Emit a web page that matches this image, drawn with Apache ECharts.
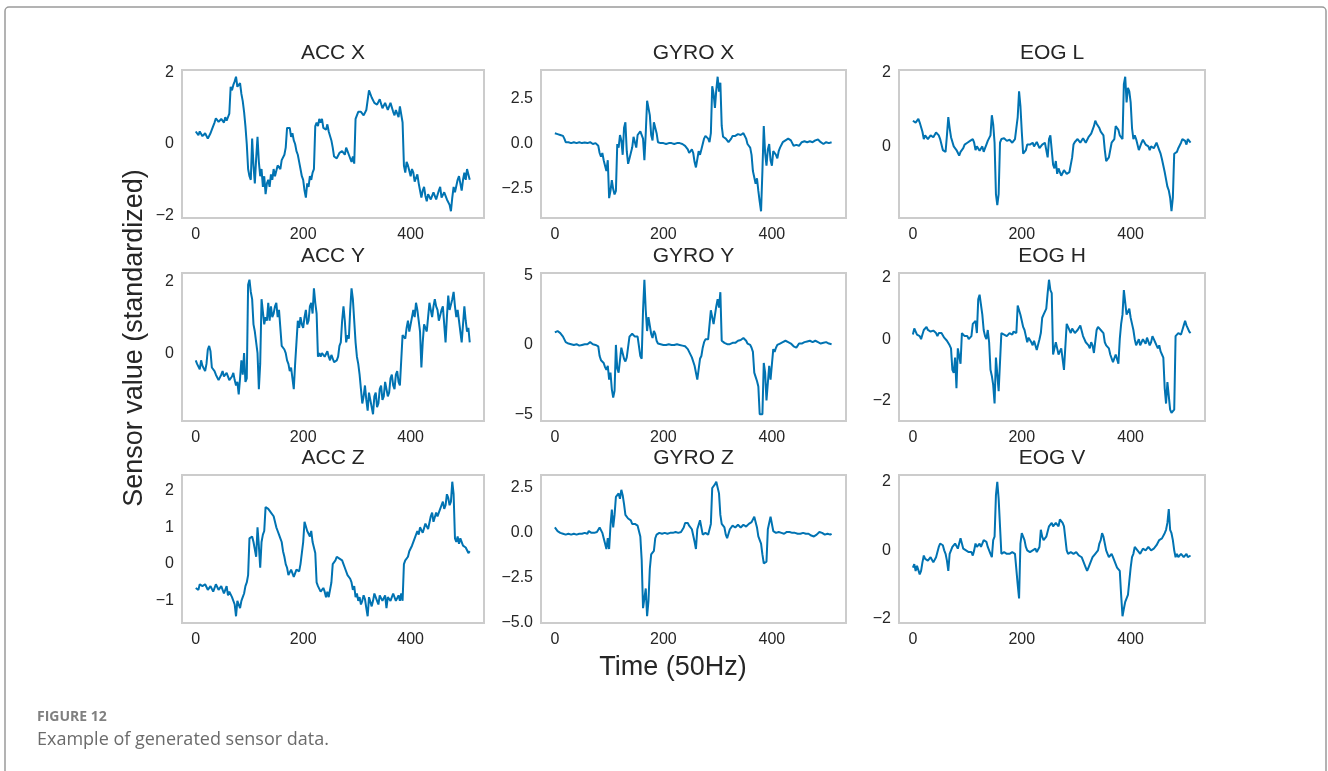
<!DOCTYPE html>
<html>
<head>
<meta charset="utf-8">
<script src="https://cdn.jsdelivr.net/npm/echarts@6/dist/echarts.min.js"></script>
<style>
  html, body { margin: 0; padding: 0; background: #fff; }
  #chart { width: 1328px; height: 771px; }
</style>
</head>
<body>
<div id="chart"></div>
<script>
// recording has 512 samples, values below are read every xStep samples
const nSamples = 512;
const xStep = 2.5;
const xTicks = [0, 200, 400];

// sensor values (one row = 50 samples)
const accX = [
  0.35,0.3,0.25,0.35,0.3,0.22,0.2,0.3,0.28,0.15,0.1,0.3,0.4,0.5,0.6,0.72,0.7,0.62,0.6,0.7,
  0.65,0.6,0.75,0.65,0.7,0.85,1.6,1.5,1.65,1.75,1.88,1.6,1.55,1.7,1.4,1.2,0.9,0.5,0.0,-0.7,
  -0.9,-1.0,0.15,-0.6,-1.1,-0.4,0.2,-0.5,-0.9,-0.7,-1.2,-0.9,-1.4,-1.1,-1.0,-1.2,-0.85,-1.0,-0.7,-0.9,
  -0.75,-0.6,-0.55,-0.7,-0.45,-0.5,-0.3,-0.1,0.45,0.4,0.45,0.2,0.3,0.1,0.0,-0.2,-0.3,-0.5,-0.7,-0.9,
  -1.0,-1.3,-1.5,-1.1,-1.2,-0.9,-1.0,-0.8,-0.7,0.5,0.6,0.5,0.7,0.6,0.7,0.45,0.5,0.4,0.55,0.35,
  0.3,0.1,-0.1,-0.35,-0.3,-0.4,-0.35,-0.25,-0.3,-0.2,-0.2,-0.3,-0.1,-0.2,-0.3,-0.4,-0.5,-0.35,-0.55,0.7,
  0.8,0.9,0.85,0.9,0.95,0.8,0.85,0.95,0.9,1.5,1.45,1.3,1.25,1.15,1.2,1.1,1.1,1.25,1.2,1.0,
  1.05,1.15,1.2,0.95,1.0,1.15,1.1,0.9,0.8,0.95,0.95,0.75,1.05,1.0,0.6,-0.6,-0.8,-0.5,-0.6,-0.75,
  -0.9,-0.7,-0.8,-1.05,-1.0,-0.85,-1.1,-1.3,-1.5,-1.3,-1.2,-1.45,-1.6,-1.4,-1.35,-1.55,-1.5,-1.35,-1.3,-1.55,
  -1.5,-1.3,-1.2,-1.5,-1.5,-1.35,-1.4,-1.55,-1.6,-1.7,-1.88,-1.5,-1.2,-1.35,-1.3,-1.0,-0.9,-1.1,-1.3,-1.0,
  -0.8,-1.0,-0.7,-0.85,-1.0
];
const gyroX = [
  0.6,0.7,0.55,0.62,0.5,0.58,0.45,0.3,0.1,0.15,0.1,0.08,0.05,0.12,0.1,0.05,0.05,0.1,0.1,0.04,
  0.05,0.1,0.08,0.02,0.05,0.12,0.1,0.03,0.0,0.05,0.05,0.0,-0.1,-0.5,-0.7,-0.5,-0.9,-1.2,-1.5,-0.9,
  -3.0,-2.6,-2.0,-2.5,-2.8,-2.6,0.0,-0.2,0.5,0.2,-0.6,0.9,1.2,-0.4,-1.1,-0.8,-0.9,-0.2,0.4,0.1,
  -0.2,0.5,0.6,0.7,0.6,0.3,-0.9,0.6,2.4,2.0,1.6,0.5,0.2,1.2,1.1,0.6,0.1,0.08,0.05,0.1,
  0.05,0.08,0.0,0.06,0.05,0.0,0.05,0.08,0.0,0.06,0.05,0.0,0.05,0.08,0.0,-0.05,-0.1,-0.2,-0.3,-0.5,
  -0.4,-0.3,-0.5,-1.0,-1.3,-1.35,-0.4,-0.6,-0.3,0.0,0.3,0.45,0.5,0.3,0.1,0.6,3.2,2.8,2.0,3.0,
  3.73,2.9,3.4,1.0,0.4,0.3,0.3,0.2,0.1,0.05,0.3,0.45,0.55,0.45,0.5,0.55,0.6,0.5,0.55,0.6,
  0.6,0.3,0.0,-0.1,-0.2,-0.6,-1.5,-1.6,-2.2,-1.9,-2.6,-3.2,-3.73,-1.5,1.0,-0.5,-1.2,-0.3,0.0,-0.9,
  -1.2,-0.4,-0.3,-0.6,-0.8,-0.4,-0.2,-0.1,0.1,0.15,0.2,0.25,0.3,0.25,0.2,0.05,-0.1,-0.08,-0.05,-0.12,
  -0.1,0.0,0.1,0.12,0.15,0.08,0.1,0.18,0.15,0.08,0.1,0.15,0.2,0.22,0.25,0.15,0.1,0.05,0.0,0.08,
  0.1,0.02,0.05,0.12,0.1
];
const eogL = [
  0.7,0.75,0.65,0.7,0.75,0.65,0.6,0.4,0.2,0.3,0.35,0.2,0.2,0.3,0.35,0.25,0.3,0.38,0.35,0.3,
  0.2,0.05,-0.1,-0.05,-0.15,0.3,0.8,0.5,0.25,0.3,0.0,0.05,-0.1,-0.05,-0.25,-0.15,-0.1,-0.05,0.05,0.0,
  0.1,0.05,0.15,0.12,0.2,0.1,-0.1,0.0,-0.05,-0.12,-0.1,0.0,-0.15,-0.05,0.05,0.15,0.2,0.3,0.85,0.6,
  0.1,-1.3,-1.6,-1.3,0.1,0.2,0.25,0.22,0.2,0.15,0.1,0.18,0.15,0.1,0.1,0.2,0.15,0.8,1.5,1.1,
  0.4,-0.2,-0.2,-0.1,0.05,0.0,0.05,0.1,0.1,0.0,0.05,0.12,0.1,-0.05,-0.05,0.05,0.0,0.1,0.05,-0.3,
  0.2,0.3,0.25,-0.5,-0.6,-0.4,-0.75,-0.6,-0.7,-0.8,-0.85,-0.65,-0.6,-0.75,-0.75,-0.7,-0.7,-0.3,0.05,0.12,
  0.1,0.2,0.2,0.1,0.15,0.22,0.2,0.1,0.15,0.25,0.3,0.35,0.4,0.55,0.7,0.62,0.6,0.5,0.4,0.35,
  0.3,-0.1,-0.4,-0.45,-0.3,-0.1,0.1,0.15,0.2,0.55,0.6,0.45,0.3,0.25,0.2,1.7,1.9,1.2,1.6,1.5,
  1.2,0.5,0.2,0.3,0.2,0.05,-0.1,0.0,0.1,0.18,0.15,0.05,0.1,0.0,-0.1,0.0,0.05,-0.05,-0.1,0.1,
  0.05,-0.1,-0.2,-0.35,-0.4,-0.7,-0.9,-1.1,-1.2,-1.4,-1.77,-1.4,-0.2,-0.15,-0.15,-0.05,-0.05,0.1,0.2,0.25,
  0.15,0.05,0.2,0.15,0.1
];
const accY = [
  -0.2,-0.3,-0.35,-0.45,-0.2,-0.35,-0.4,-0.5,-0.3,0.1,0.2,0.05,-0.4,-0.45,-0.5,-0.6,-0.55,-0.75,-0.7,-0.6,
  -0.5,-0.65,-0.7,-0.55,-0.6,-0.75,-0.8,-0.65,-0.55,-0.75,-0.9,-0.8,-1.15,-0.7,-0.2,-0.6,0.0,-0.8,-0.7,1.9,
  2.04,1.7,1.5,0.8,0.6,0.3,0.0,-1.0,-0.3,1.5,1.5,0.8,1.0,0.9,1.4,0.9,1.3,1.0,1.1,1.3,
  1.4,1.0,1.2,0.7,0.2,0.15,0.1,0.0,-0.2,-0.3,-0.5,-0.4,-0.7,-1.0,-0.3,0.3,0.9,0.7,1.0,0.8,
  0.7,1.0,1.2,0.8,0.9,1.3,1.4,1.1,1.8,1.4,1.1,-0.1,0.0,-0.1,0.0,0.05,-0.1,-0.15,0.05,-0.1,
  -0.2,-0.05,-0.15,-0.25,-0.3,-0.2,-0.1,0.2,0.3,0.9,1.3,0.9,0.3,0.5,0.4,1.2,1.8,1.5,0.9,0.3,
  -0.1,-0.3,-0.6,-1.0,-1.4,-1.2,-0.9,-1.3,-1.6,-1.1,-1.3,-1.5,-1.7,-1.2,-1.1,-1.5,-1.4,-1.0,-0.9,-1.3,
  -1.2,-0.8,-0.8,-1.2,-1.1,-0.7,-0.6,-0.9,-1.0,-0.6,-0.5,-0.8,-0.9,-0.2,0.5,0.5,0.4,0.7,0.9,0.6,
  0.6,1.0,1.2,1.0,1.4,1.2,0.9,0.6,-0.4,0.3,0.8,0.7,0.6,1.0,1.4,1.2,1.0,1.3,1.5,1.3,
  1.2,0.9,0.9,1.2,1.3,0.8,0.3,1.0,1.6,1.2,1.2,1.5,1.7,1.3,1.0,1.2,0.9,0.6,0.3,0.8,
  1.3,0.9,0.6,0.7,0.3
];
const gyroY = [
  0.9,1.0,1.0,0.9,0.85,0.95,0.6,0.4,0.2,0.15,0.1,0.05,0.05,0.1,0.0,0.05,0.05,0.0,-0.05,0.05,
  0.0,0.05,0.05,0.0,0.05,0.15,0.2,0.1,0.05,0.1,0.0,0.05,-0.1,-0.8,-1.1,-1.0,-1.3,-1.6,-1.8,-1.5,
  -2.5,-2.0,-3.2,-3.8,-3.3,0.0,-1.7,-2.0,-1.9,-0.2,-0.2,-1.0,-1.2,-0.9,-1.0,0.6,0.7,0.8,0.8,0.6,
  0.5,0.6,0.5,-0.8,-1.0,2.5,4.7,2.5,1.0,2.0,2.0,0.8,0.5,1.0,0.8,0.3,0.1,0.05,0.05,0.1,
  0.0,0.05,0.0,0.05,0.05,0.0,0.0,0.05,0.0,0.05,0.05,0.0,0.0,-0.05,-0.05,-0.05,-0.1,-0.2,-0.3,-0.4,
  -0.7,-0.9,-1.0,-1.5,-1.5,-2.5,-2.5,-1.0,-0.8,-0.2,0.2,0.4,0.5,0.4,0.3,2.5,2.5,1.5,1.5,2.8,
  3.3,2.7,3.8,0.3,0.2,0.15,0.1,0.05,0.0,0.05,0.1,0.15,0.2,0.15,0.25,0.3,0.3,0.35,0.4,0.5,
  0.5,0.3,0.1,0.05,0.0,-0.2,-0.5,-2.0,-2.3,-2.6,-3.0,-5.0,-5.0,-5.0,-1.3,-2.0,-4.0,-4.1,-1.5,-2.5,
  -2.5,-0.3,-0.5,-0.2,0.0,0.05,0.1,0.15,0.2,0.25,0.3,0.25,0.2,0.15,0.1,0.0,-0.1,-0.15,-0.2,-0.05,
  0.1,0.05,0.1,0.15,0.2,0.25,0.25,0.3,0.3,0.25,0.2,0.3,0.3,0.25,0.2,0.15,0.1,0.2,0.15,0.1,
  0.2,0.15,0.1,0.05,0.05
];
const eogH = [
  0.15,0.35,0.3,0.15,0.2,0.1,0.0,0.15,0.3,0.35,0.4,0.3,0.3,0.25,0.2,0.28,0.3,0.2,0.1,0.2,
  0.25,0.2,0.15,0.05,0.0,-0.05,-0.1,-0.2,-0.3,-1.0,-1.1,-0.6,-1.6,-0.3,-0.3,-0.8,0.2,0.15,0.1,0.15,
  0.1,0.0,0.0,0.1,0.5,0.55,0.6,0.2,1.3,1.45,1.4,0.8,0.3,0.1,0.0,0.3,-0.1,-1.0,-1.2,-1.5,
  -2.1,-0.6,-0.6,-1.7,-1.7,0.2,0.2,0.15,0.2,0.1,0.15,0.2,0.2,0.15,0.25,0.2,0.2,1.1,1.1,0.8,
  0.6,0.4,0.3,0.1,-0.1,0.05,0.0,-0.1,-0.2,-0.05,-0.1,-0.35,-0.3,0.0,0.2,0.7,0.8,0.9,1.0,1.5,
  1.94,1.6,1.5,-0.5,-0.5,-0.1,-0.3,-0.5,-0.5,-0.3,-0.3,-1.0,-1.0,0.5,0.5,0.3,0.2,0.35,0.3,0.2,
  0.2,0.3,0.3,0.45,0.4,0.1,0.1,-0.1,-0.1,-0.2,-0.3,-0.1,-0.2,-0.45,-0.4,0.3,0.4,0.35,0.3,0.25,
  0.2,-0.1,-0.2,-0.15,-0.3,-0.5,-0.5,-0.75,-0.7,-0.5,-0.5,-0.8,0.0,0.5,0.8,1.6,1.6,0.8,0.8,1.0,
  0.7,0.5,0.3,0.0,-0.2,-0.1,0.0,-0.2,-0.1,0.0,0.0,-0.15,0.05,0.1,-0.2,-0.1,0.1,0.0,-0.1,-0.2,
  -0.3,-0.2,-0.4,-0.5,-0.6,-1.6,-2.1,-1.4,-1.4,-2.3,-2.4,-2.45,-2.3,0.1,0.1,0.2,0.2,0.15,0.3,0.45,
  0.6,0.45,0.35,0.25,0.2
];
const accZ = [
  -0.65,-0.6,-0.7,-0.55,-0.5,-0.6,-0.65,-0.55,-0.5,-0.7,-0.75,-0.6,-0.6,-0.75,-0.7,-0.55,-0.6,-0.7,-0.75,-0.6,
  -0.6,-0.8,-0.7,-0.6,-0.85,-0.75,-0.7,-0.9,-0.9,-1.1,-1.42,-1.0,-1.1,-1.2,-1.0,-0.9,-0.8,-0.6,-0.5,-0.3,
  0.7,0.7,0.75,0.6,0.6,0.2,1.0,0.5,-0.1,0.6,0.8,0.9,1.55,1.6,1.5,1.45,1.4,1.35,1.3,1.15,
  1.0,0.9,0.8,0.7,0.6,0.35,0.2,0.0,-0.1,-0.3,-0.3,-0.15,-0.2,-0.35,-0.3,-0.15,-0.1,-0.2,0.0,0.3,
  0.6,1.15,1.1,0.9,0.95,0.75,0.9,0.6,0.6,0.3,-0.5,-0.6,-0.6,-0.75,-0.7,-0.65,-0.75,-0.9,-0.75,-0.9,
  -0.9,-0.5,0.0,-0.05,0.1,0.2,0.25,0.15,0.2,0.1,0.0,-0.1,-0.1,-0.3,-0.25,-0.4,-0.5,-0.7,-0.6,-0.9,
  -0.8,-1.0,-0.9,-1.1,-1.0,-0.85,-0.95,-1.2,-1.42,-0.9,-0.9,-1.15,-1.0,-0.8,-0.8,-1.0,-1.1,-0.85,-0.8,-1.0,
  -1.0,-0.85,-1.2,-0.9,-0.85,-1.0,-1.0,-0.8,-0.8,-1.0,-0.95,-0.85,-1.0,-0.8,-1.0,0.0,0.1,0.15,0.2,0.35,
  0.3,0.5,0.5,0.7,0.7,0.9,0.8,1.0,1.0,0.85,0.9,1.1,1.1,0.95,1.0,1.3,1.4,1.15,1.2,1.4,
  1.3,1.4,1.5,1.6,1.7,1.5,1.6,1.9,1.8,1.6,1.7,2.24,1.9,0.7,0.6,0.75,0.55,0.7,0.7,0.5,
  0.5,0.45,0.4,0.3,0.35
];
const gyroZ = [
  0.3,0.2,0.1,0.15,0.0,0.0,-0.05,-0.1,-0.1,-0.05,-0.05,-0.1,-0.1,-0.05,-0.05,-0.1,-0.1,-0.05,-0.05,-0.08,
  -0.05,0.0,0.0,-0.05,-0.05,0.1,0.1,0.0,-0.05,0.0,0.0,0.05,0.05,0.3,0.3,0.0,-0.3,-0.6,-0.9,-0.3,
  -0.9,0.4,1.3,0.3,1.0,2.0,2.0,2.2,1.9,2.4,2.1,1.6,1.0,0.9,0.8,0.7,0.7,0.5,0.6,0.5,
  0.5,0.4,0.4,-0.2,-1.5,-4.2,-4.2,-3.1,-4.65,-3.8,-2.0,-1.2,-1.2,-1.0,-0.3,-0.1,-0.05,0.0,0.0,-0.05,
  -0.05,0.0,0.0,-0.05,0.0,0.0,-0.05,0.0,0.0,0.05,0.05,0.0,0.0,0.05,0.05,0.3,0.55,0.5,0.55,0.4,
  0.3,0.2,0.2,-0.5,-0.9,0.2,0.2,0.7,0.6,-0.1,-0.1,0.0,0.0,-0.1,-0.1,0.5,2.5,2.6,2.7,2.85,
  2.8,2.2,1.0,0.5,0.4,0.3,-0.1,-0.3,-0.3,0.2,0.2,0.4,0.4,0.3,0.3,0.45,0.4,0.3,0.3,0.45,
  0.4,0.35,0.35,0.5,0.5,0.6,0.6,0.9,0.9,0.3,-0.2,-0.3,-0.6,-1.2,-1.7,-1.6,-1.6,0.2,0.2,0.9,
  0.9,0.1,0.1,0.0,0.0,0.05,0.05,0.0,0.0,-0.05,-0.05,0.05,0.1,0.05,0.0,0.0,0.05,0.0,-0.05,-0.05,
  -0.1,-0.05,-0.05,0.0,-0.05,-0.05,0.0,-0.05,-0.1,-0.15,-0.15,-0.2,-0.2,-0.1,0.0,0.05,0.05,0.0,-0.05,-0.1,
  -0.1,-0.05,-0.05,-0.1,-0.05
];
const eogV = [
  -0.5,-0.4,-0.6,-0.45,-0.5,-0.7,-0.6,-0.35,-0.15,-0.25,-0.2,-0.3,-0.3,-0.2,-0.2,-0.35,-0.35,-0.2,-0.25,0.1,
  0.2,0.25,0.15,0.0,-0.1,-0.3,-0.6,-0.1,0.0,0.1,0.1,0.2,0.2,0.05,0.1,0.35,0.3,0.05,0.0,0.0,
  -0.05,-0.05,-0.1,-0.05,-0.15,0.0,0.2,0.1,0.15,0.2,0.1,0.2,0.3,0.3,0.25,0.1,0.0,-0.1,-0.2,0.3,
  0.4,1.6,2.0,1.5,1.5,-0.1,-0.1,-0.05,-0.1,-0.1,-0.05,-0.1,-0.1,-0.05,-0.05,-0.1,-0.1,-1.0,-1.4,0.2,
  0.5,0.4,0.3,0.1,0.0,-0.05,-0.05,0.0,0.0,0.05,0.05,-0.05,-0.05,0.1,0.6,0.4,0.3,0.35,0.4,0.55,
  0.7,0.65,0.8,0.7,0.7,0.8,0.75,0.7,0.9,0.85,0.8,0.7,0.65,0.0,-0.1,-0.05,-0.05,-0.1,-0.1,-0.05,
  -0.05,-0.1,-0.15,-0.1,-0.2,-0.3,-0.4,-0.5,-0.6,-0.5,-0.4,-0.3,-0.2,-0.15,-0.1,-0.05,0.0,0.2,0.3,0.5,
  0.4,0.2,0.0,-0.1,-0.2,-0.15,-0.1,-0.2,-0.3,-0.4,-0.5,-0.5,-0.6,-1.3,-1.92,-1.7,-1.5,-1.4,-1.3,-0.9,
  -0.5,-0.2,-0.1,0.1,0.1,0.0,0.0,-0.1,-0.1,0.05,0.1,0.0,0.0,0.1,0.1,0.0,-0.05,0.05,0.1,0.15,
  0.2,0.3,0.3,0.35,0.4,0.5,0.6,0.8,1.2,0.6,0.5,0.3,0.0,-0.2,-0.1,-0.2,-0.2,-0.1,-0.1,-0.2,
  -0.15,-0.1,-0.2,-0.15,-0.15
];

const panelNames = ['ACC X', 'GYRO X', 'EOG L', 'ACC Y', 'GYRO Y', 'EOG H', 'ACC Z', 'GYRO Z', 'EOG V'];
const panelValues = [accX, gyroX, eogL, accY, gyroY, eogH, accZ, gyroZ, eogV];
const panelYTicks = [
  [-2, 0, 2], [-2.5, 0, 2.5], [0, 2],
  [0, 2], [-5, 0, 5], [-2, 0, 2],
  [-1, 0, 1, 2], [-5, -2.5, 0, 2.5], [-2, 0, 2]
];
const panelDecimals = [0, 1, 0, 0, 0, 0, 0, 1, 0];

// layout (px)
const colLeft = [182, 541, 899];
const colWidth = [302, 305, 306];
const rowTop = [70, 273, 475];
const rowHeight = 148;

const textColor = '#262626';
const lineColor = '#0173B2';
const font = '"Liberation Sans", Arial, sans-serif';

const chart = echarts.init(document.getElementById('chart'));

function fmt(v, d) {
  const s = Math.abs(v).toFixed(d);
  return v < 0 ? '\u2212' + s : s;
}

// matplotlib style 5% margins
const xSpan = nSamples - 1;
const xMin = -xSpan * 0.05, xMax = xSpan * 1.05;

const grids = [], xAxes = [], yAxes = [], series = [], titles = [];
panelNames.forEach((name, i) => {
  const r = Math.floor(i / 3), c = i % 3;
  const vals = panelValues[i];
  const lo = Math.min(...vals), hi = Math.max(...vals);
  const pad = (hi - lo) * 0.05;
  grids.push({
    left: colLeft[c], top: rowTop[r], width: colWidth[c], height: rowHeight,
    show: true, borderColor: '#cccccc', borderWidth: 2, backgroundColor: '#fff'
  });
  titles.push({
    text: name,
    left: colLeft[c] + colWidth[c] / 2,
    top: rowTop[r] - 27,
    textAlign: 'center',
    padding: 0,
    textStyle: { fontFamily: font, fontSize: 21, fontWeight: 'normal', color: textColor }
  });
  xAxes.push({
    type: 'value', gridIndex: i, min: xMin, max: xMax,
    axisLine: { show: false }, axisTick: { show: false }, splitLine: { show: false },
    axisLabel: {
      customValues: xTicks, margin: 9, color: textColor,
      fontFamily: font, fontSize: 16,
      formatter: v => fmt(v, 0)
    }
  });
  yAxes.push({
    type: 'value', gridIndex: i,
    min: lo - pad, max: hi + pad,
    axisLine: { show: false }, axisTick: { show: false }, splitLine: { show: false },
    axisLabel: {
      customValues: panelYTicks[i], margin: 8, color: textColor,
      fontFamily: font, fontSize: 16,
      formatter: v => fmt(v, panelDecimals[i])
    }
  });
  series.push({
    type: 'line', xAxisIndex: i, yAxisIndex: i,
    data: vals.map((v, k) => [k * xStep, v]),
    showSymbol: false, symbol: 'none',
    lineStyle: { color: lineColor, width: 2 }
  });
});

chart.setOption({
  animation: false,
  title: titles,
  grid: grids,
  xAxis: xAxes,
  yAxis: yAxes,
  series: series,
  graphic: [
    {
      type: 'rect', z: -10,
      shape: { x: 5, y: 7, width: 1321, height: 820, r: 4 },
      style: { fill: '#fff', stroke: '#9a9a9a', lineWidth: 1.5 }
    },
    {
      type: 'text', x: 135, y: 338, rotation: Math.PI / 2,
      style: {
        text: 'Sensor value (standardized)', fill: textColor,
        font: '27px "Liberation Sans", Arial, sans-serif',
        textAlign: 'center', textVerticalAlign: 'middle'
      }
    },
    {
      type: 'text', x: 673, y: 668,
      style: {
        text: 'Time (50Hz)', fill: textColor,
        font: '27px "Liberation Sans", Arial, sans-serif',
        textAlign: 'center', textVerticalAlign: 'middle'
      }
    },
    {
      type: 'text', x: 37, y: 717,
      style: {
        text: 'FIGURE 12', fill: '#808080',
        font: 'bold 14px "Open Sans", Lato, sans-serif',
        textAlign: 'left', textVerticalAlign: 'middle'
      }
    },
    {
      type: 'text', x: 37, y: 740,
      style: {
        text: 'Example of generated sensor data.', fill: '#6b6b6b',
        font: '18px "Open Sans", Lato, sans-serif',
        textAlign: 'left', textVerticalAlign: 'middle'
      }
    }
  ]
});
</script>
</body>
</html>
